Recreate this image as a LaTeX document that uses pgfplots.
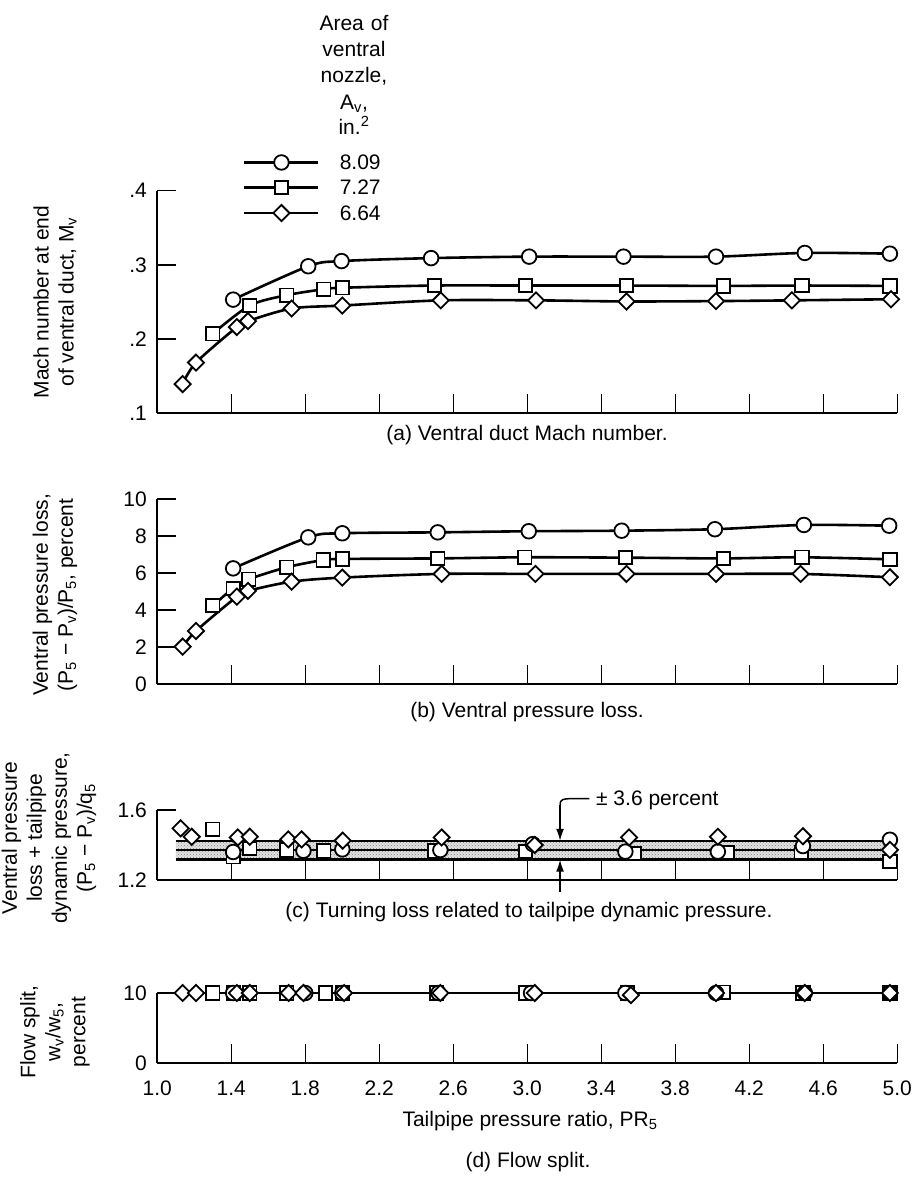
\documentclass[border=0pt]{standalone}
\usepackage{fontspec}
\setmainfont{Liberation Sans}
\usepackage{pgfplots}
\pgfplotsset{compat=1.18}
\usetikzlibrary{arrows.meta,patterns}

\newcommand{\fs}{\fontsize{21}{25}\selectfont}

\pgfplotsset{
  panel/.style={
    scale only axis, width=740pt,
    xmin=1, xmax=5, clip=false,
    axis x line*=bottom, axis y line*=left,
    axis line style={line width=2pt, -},
    every tick/.style={black, line width=1.6pt},
    tick align=inside, major tick length=19pt,
    xtick={1.0,1.4,1.8,2.2,2.6,3.0,3.4,3.8,4.2,4.6,5.0},
    xticklabels={},
    tick label style={font=\fs},
    yticklabel style={xshift=-7pt},
    xticklabel style={anchor=north, yshift=-14pt, text height=15pt, text depth=0pt},
  },
  sO/.style={line width=2.6pt, mark=*, mark size=7.3pt, mark options={fill=white, draw=black, line width=1.8pt, solid}},
  sS/.style={line width=2.6pt, mark=square*, mark size=6.7pt, mark options={fill=white, draw=black, line width=1.8pt, solid}},
  sD/.style={line width=2.6pt, mark=square*, mark size=5.7pt, mark options={fill=white, draw=black, line width=1.8pt, solid, rotate=45}},
}

\begin{document}
\begin{tikzpicture}
\useasboundingbox (0,0) rectangle (917pt,1183pt);

% ---------------- Panel (a) ----------------
\begin{axis}[panel, at={(157.3pt,770pt)}, anchor=south west, height=222.3pt,
  ymin=0.1, ymax=0.4, ytick={0.1,0.2,0.3,0.4}, yticklabels={.1,.2,.3,.4},
  legend style={draw=none, fill=none, at={(axis cs:1.463,0.4036)}, anchor=west,
    inner sep=0pt, row sep=10pt, font=\fs,
    nodes={inner sep=0pt, text height=15pt, text depth=0pt},
    /tikz/every odd column/.append style={column sep=20pt}},
  legend cell align=left,
  legend image code/.code={\draw[mark repeat=2,mark phase=2,#1] plot coordinates {(0pt,0pt) (37pt,0pt) (74pt,0pt)};}
]
\addplot[sO, smooth, tension=0.5] coordinates {(1.41,0.253) (1.816,0.298) (1.996,0.305) (2.48,0.309) (3.01,0.311) (3.52,0.311) (4.02,0.311) (4.50,0.316) (4.96,0.315)};
\addlegendentry{8.09}
\addplot[sS, smooth, tension=0.5] coordinates {(1.30,0.207) (1.50,0.245) (1.70,0.259) (1.90,0.267) (2.0,0.269) (2.498,0.272) (2.99,0.272) (3.536,0.272) (4.06,0.2715) (4.485,0.272) (4.96,0.2715)};
\addlegendentry{7.27}
\addplot[sD, smooth, tension=0.5] coordinates {(1.137,0.139) (1.209,0.168) (1.43,0.216) (1.49,0.224) (1.726,0.241) (2.0,0.245) (2.532,0.252) (3.047,0.252) (3.536,0.2505) (4.02,0.251) (4.43,0.252) (4.966,0.2535)};
\addlegendentry{6.64}
\end{axis}

% ---------------- Panel (b) ----------------
\begin{axis}[panel, at={(157.3pt,499pt)}, anchor=south west, height=184.7pt,
  ymin=0, ymax=10, ytick={0,2,4,6,8,10}, yticklabels={0,2,4,6,8,10}]
\addplot[sO, smooth, tension=0.5] coordinates {(1.41,6.26) (1.816,7.94) (2.0,8.16) (2.516,8.21) (3.008,8.27) (3.51,8.30) (4.014,8.38) (4.495,8.61) (4.956,8.57)};
\addplot[sS, smooth, tension=0.5] coordinates {(1.30,4.24) (1.41,5.18) (1.495,5.67) (1.70,6.32) (1.897,6.71) (2.0,6.77) (2.516,6.80) (2.987,6.86) (3.53,6.84) (4.06,6.80) (4.485,6.86) (4.96,6.75)};
\addplot[sD, smooth, tension=0.5] coordinates {(1.137,2.02) (1.209,2.87) (1.43,4.73) (1.49,5.04) (1.726,5.54) (2.0,5.76) (2.537,5.96) (3.044,5.96) (3.536,5.96) (4.02,5.96) (4.477,5.96) (4.96,5.78)};
\end{axis}

% ---------------- Panel (c) ----------------
\begin{axis}[panel, at={(157.3pt,303pt)}, anchor=south west, height=70pt,
  ymin=1.2, ymax=1.6, ytick={1.2,1.6}, yticklabels={1.2,1.6}]
\addplot[draw=none, fill=gray!22] coordinates {(1.1,1.318) (5,1.318) (5,1.422) (1.1,1.422) (1.1,1.318)};
\addplot[draw=none, pattern=crosshatch dots, pattern color=gray] coordinates {(1.1,1.318) (5,1.318) (5,1.422) (1.1,1.422) (1.1,1.318)};
\addplot[line width=2.4pt] coordinates {(1.1,1.422) (5,1.422)};
\addplot[line width=2.4pt] coordinates {(1.1,1.37) (5,1.37)};
\addplot[line width=2.4pt] coordinates {(1.1,1.318) (5,1.318)};
\addplot[sS, only marks] coordinates {(1.30,1.49) (1.41,1.333) (1.50,1.381) (1.70,1.371) (1.90,1.367) (2.50,1.367) (2.99,1.362) (3.58,1.352) (4.08,1.356) (4.48,1.356) (4.96,1.305)};
\addplot[sO, only marks] coordinates {(1.41,1.36) (1.79,1.367) (2.0,1.375) (2.53,1.371) (3.03,1.405) (3.53,1.362) (4.03,1.362) (4.49,1.394) (4.96,1.43)};
\addplot[sD, only marks] coordinates {(1.126,1.495) (1.186,1.447) (1.435,1.443) (1.50,1.447) (1.708,1.432) (1.78,1.432) (2.002,1.425) (2.537,1.443) (3.04,1.40) (3.55,1.443) (4.03,1.447) (4.49,1.45) (4.96,1.372)};
\draw[line width=1.5pt, -{Latex[length=12pt,width=8pt]}] (axis cs:3.177,1.63) -- (axis cs:3.177,1.424);
\draw[line width=1.5pt] (axis cs:3.177,1.63) .. controls (axis cs:3.177,1.66) and (axis cs:3.19,1.665) .. (axis cs:3.25,1.665) -- (axis cs:3.335,1.665);
\draw[line width=1.5pt, -{Latex[length=12pt,width=8pt]}] (axis cs:3.177,1.131) -- (axis cs:3.177,1.316);
\node[anchor=base west, font=\fs, inner sep=0pt] at (axis cs:3.371,1.626) {± 3.6 percent};
\end{axis}

% ---------------- Panel (d) ----------------
\begin{axis}[panel, at={(157.3pt,120pt)}, anchor=south west, height=70pt,
  ymin=0, ymax=10, ytick={0,10}, yticklabels={0,10},
  xticklabels={1.0,1.4,1.8,2.2,2.6,3.0,3.4,3.8,4.2,4.6,5.0}]
\addplot[line width=2.4pt] coordinates {(1,10) (5,10)};
\addplot[sS, only marks] coordinates {(1.30,10) (1.41,10) (1.50,10) (1.70,10) (1.91,10) (2.0,10) (2.51,10) (2.99,10) (3.54,10) (4.06,10.1) (4.49,10) (4.96,10)};
\addplot[sO, only marks] coordinates {(1.41,10) (1.80,10) (2.0,10) (2.52,10) (3.02,10) (3.53,10) (4.02,10) (4.50,10) (4.96,10)};
\addplot[sD, only marks] coordinates {(1.137,10) (1.209,10) (1.43,10) (1.50,10) (1.71,10) (1.79,10) (2.01,10) (2.53,10) (3.04,10) (3.56,9.7) (4.02,10) (4.50,10) (4.96,10)};
\end{axis}

% ---------------- Text ----------------
\node[font=\fs, align=center, anchor=north, inner sep=0pt, text width=120pt] at (354pt,1168pt)
  {\baselineskip=26.25pt Area of\\ventral\\nozzle,\\A\textsubscript{v},\\in.\textsuperscript{2}};

\node[font=\fs, rotate=90, align=center, inner sep=0pt] at (55pt,881pt)
  {\baselineskip=30pt Mach number at end\\of ventral duct, M\textsubscript{v}};
\node[font=\fs, rotate=90, align=center, inner sep=0pt] at (55pt,588pt)
  {\baselineskip=30pt Ventral pressure loss,\\(P\textsubscript{5} − P\textsubscript{v})/P\textsubscript{5}, percent};
\node[font=\fs, rotate=90, align=center, inner sep=0pt] at (49pt,345pt)
  {\baselineskip=20.5pt Ventral pressure\\loss + tailpipe\\dynamic pressure,\\(P\textsubscript{5} − P\textsubscript{v})/q\textsubscript{5}};
\node[font=\fs, rotate=90, align=center, inner sep=0pt] at (55pt,151pt)
  {\baselineskip=25pt Flow split,\\w\textsubscript{v}/w\textsubscript{5},\\percent};

\node[font=\fs] at (527pt,748pt) {(a) Ventral duct Mach number.};
\node[font=\fs] at (527pt,471pt) {(b) Ventral pressure loss.};
\node[font=\fs] at (529pt,271pt) {(c) Turning loss related to tailpipe dynamic pressure.};
\node[font=\fs] at (530pt,62pt) {Tailpipe pressure ratio, PR\textsubscript{5}};
\node[font=\fs] at (528pt,21pt) {(d) Flow split.};
\end{tikzpicture}
\end{document}
